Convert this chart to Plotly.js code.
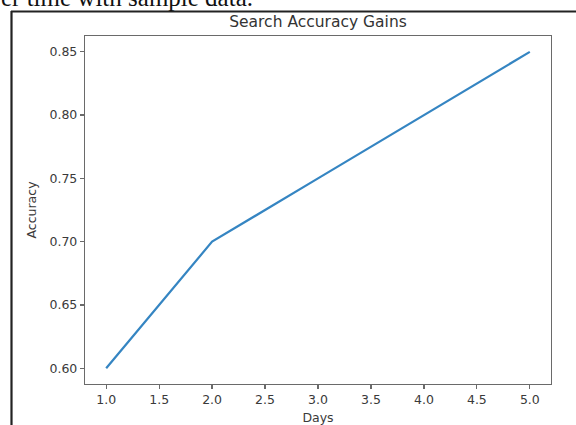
<!DOCTYPE html>
<html>
<head>
<meta charset="utf-8">
<script src="https://cdn.plot.ly/plotly-3.0.1.min.js"></script>
<style>html,body{margin:0;padding:0;background:#fff;overflow:hidden}</style>
</head>
<body>
<div id="chart" style="width:576px;height:425px"></div>
<script>
const days = [1, 2, 3, 4, 5];
const accuracy = [0.60, 0.70, 0.75, 0.80, 0.85];
const xTicks = [1.0, 1.5, 2.0, 2.5, 3.0, 3.5, 4.0, 4.5, 5.0];
const yTicks = [0.60, 0.65, 0.70, 0.75, 0.80, 0.85];
const chartTitle = "Search Accuracy Gains";
const xLabel = "Days";
const yLabel = "Accuracy";
const caption = "over time with sample data.";

const W = 576, H = 425;
const M = {l: 85, r: 25, t: 36, b: 41};
const PW = W - M.l - M.r, PH = H - M.t - M.b;
const px = v => (v - M.l) / PW;
const py = v => 1 - (v - M.t) / PH;

const axisCommon = {
  showgrid: false, zeroline: false,
  showline: true, mirror: true, linecolor: '#6a6a6a', linewidth: 1.2,
  ticks: 'outside', ticklen: 4, tickwidth: 1.2, tickcolor: '#6a6a6a',
  tickfont: {family: 'DejaVu Sans', size: 12.5, color: '#3a3a3a'}
};

const layout = {
  width: W, height: H,
  margin: M,
  paper_bgcolor: '#fff', plot_bgcolor: '#fff',
  showlegend: false,
  title: {text: chartTitle, x: 0.5, xref: 'paper', xanchor: 'center', y: 1 - 22 / H, yref: 'container', yanchor: 'middle',
          font: {family: 'DejaVu Sans', size: 15.5, color: '#333'}},
  xaxis: Object.assign({}, axisCommon, {
    range: [0.8, 5.2], tickvals: xTicks, tickformat: '.1f',
    title: {text: xLabel, standoff: 7, font: {family: 'DejaVu Sans', size: 12.5, color: '#3a3a3a'}}
  }),
  yaxis: Object.assign({}, axisCommon, {
    range: [0.5875, 0.8625], tickvals: yTicks, tickformat: '.2f',
    title: {text: yLabel, standoff: 10, font: {family: 'DejaVu Sans', size: 12.5, color: '#3a3a3a'}}
  }),
  shapes: [
    {type: 'line', xref: 'paper', yref: 'paper', x0: px(11), x1: px(580), y0: py(11.5), y1: py(11.5),
     line: {color: '#222', width: 2.2}},
    {type: 'line', xref: 'paper', yref: 'paper', x0: px(11.5), x1: px(11.5), y0: py(11), y1: py(430),
     line: {color: '#222', width: 2.2}}
  ],
  annotations: [
    {text: caption, xref: 'paper', yref: 'paper', x: px(-26), y: py(-2), xanchor: 'left', yanchor: 'middle',
     showarrow: false, font: {family: 'Liberation Serif', size: 25, color: '#111'}}
  ]
};

const data = [{
  x: days, y: accuracy, type: 'scatter', mode: 'lines',
  line: {color: '#3585c2', width: 2.2}, hoverinfo: 'skip'
}];

Plotly.newPlot('chart', data, layout, {staticPlot: true, displayModeBar: false});
</script>
</body>
</html>
